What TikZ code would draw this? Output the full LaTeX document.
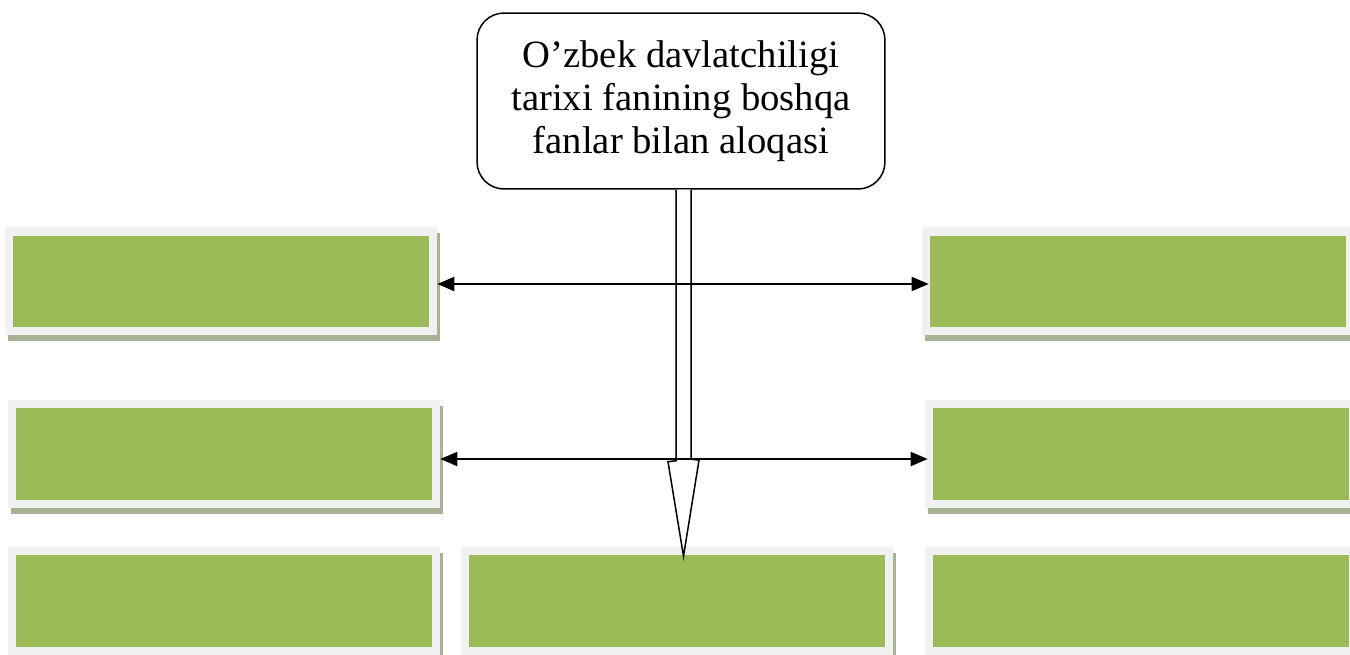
\documentclass[tikz,border=0pt]{standalone}
\usepackage{fontspec}
\setmainfont{Liberation Serif}
\usepackage{tikz}
\usetikzlibrary{arrows.meta,shadows,positioning}

\definecolor{leaf}{RGB}{155,187,89}
\definecolor{frame}{RGB}{241,241,241}
\definecolor{boxshadow}{RGB}{168,178,148}

\tikzset{
	box/.style={shape=rectangle, fill=frame, minimum width=8.64cm, minimum height=2.16cm,
		drop shadow={shadow xshift=0.06cm, shadow yshift=-0.12cm, fill=boxshadow, opacity=1},
		path picture={\fill[leaf] ([shift={(0.16cm,-0.17cm)}]path picture bounding box.north west)
			rectangle ([shift={(-0.15cm,0.16cm)}]path picture bounding box.south east);}},
	link/.style={{Triangle[length=0.34cm,width=0.28cm]}-{Triangle[length=0.34cm,width=0.28cm]}, line width=0.04cm},
	hollow/.style={draw, fill=white, line width=0.03cm, line join=miter}
}

\begin{document}
\begin{tikzpicture}[x=0.02cm,y=-0.02cm]
	\useasboundingbox (0,0) rectangle (1350,654);
	\path (681,101) node (hub) [shape=rectangle, draw, line width=0.03cm, rounded corners=0.54cm,
			minimum width=8.16cm, minimum height=3.52cm, align=center,
			font=\fontsize{22}{24.6}\selectfont] {O’zbek davlatchiligi\\tarixi fanining boshqa\\fanlar bilan aloqasi}
		  (221,281) node (l1) [box] {}
		  (1138,281) node (r1) [box] {}
		  (224,453.5) node (l2) [box] {}
		  (1141,453.5) node (r2) [box] {}
		  (224,600.5) node (l3) [box] {}
		  (677,600.5) node (m3) [box] {}
		  (1141,600.5) node (r3) [box] {};
	% wide arrow from the title down to the middle box
	\draw[hollow] ([xshift=-0.1cm]hub.south) -- ++(0,271) -- ++(-8,1)
		-- ([xshift=0.05cm,yshift=-0.2cm]hub.south |- m3.north) -- ++(15.5,-96) -- ++(-8,-1)
		-- ([xshift=0.2cm]hub.south);
	\draw[link] ([yshift=-0.06cm]l1.east) -- ([xshift=0.14cm,yshift=-0.06cm]r1.west);
	\draw[link] ([yshift=-0.11cm]l2.east) -- ([xshift=0.06cm,yshift=-0.11cm]r2.west);
\end{tikzpicture}
\end{document}
